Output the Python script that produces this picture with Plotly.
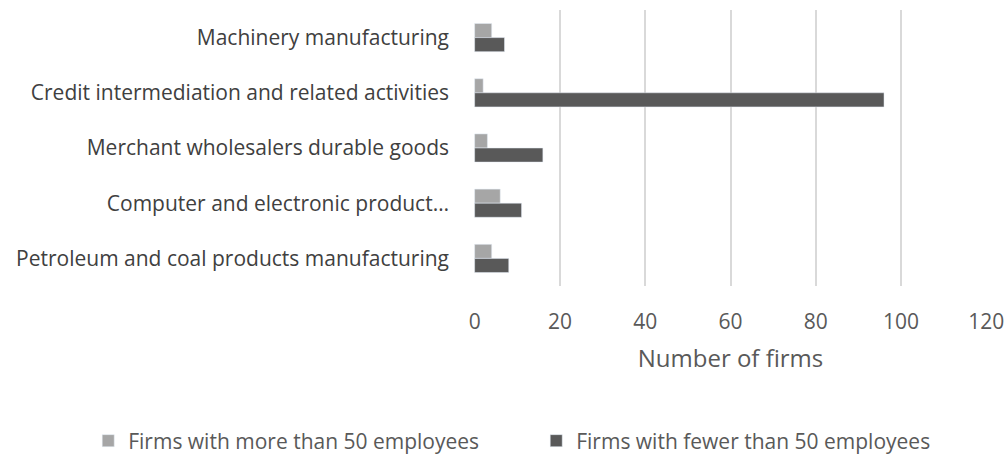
import plotly.graph_objects as go

categories = [
    "Machinery manufacturing",
    "Credit intermediation and related activities",
    "Merchant wholesalers durable goods",
    "Computer and electronic product…",
    "Petroleum and coal products manufacturing",
]
more_than_50 = [4, 2, 3, 6, 4]
fewer_than_50 = [7, 96, 16, 11, 8]
x_ticks = [0, 20, 40, 60, 80, 100, 120]

font_family = "Open Sans"

fig = go.Figure()
fig.add_trace(go.Bar(
    y=categories, x=more_than_50, orientation="h",
    name="Firms with more than 50 employees",
    marker=dict(color="#a6a6a6"),
))
fig.add_trace(go.Bar(
    y=categories, x=fewer_than_50, orientation="h",
    name="Firms with fewer than 50 employees",
    marker=dict(color="#595959"),
))

fig.update_layout(
    width=1008, height=456,
    margin=dict(l=474, r=21, t=10, b=170, autoexpand=False),
    paper_bgcolor="white", plot_bgcolor="white",
    barmode="group", bargap=0.49, bargroupgap=0,
    font=dict(family=font_family, color="#404040", size=21),
    xaxis=dict(
        range=[-0.15, 120.15], tickvals=x_ticks, showgrid=True,
        gridcolor="#d9d9d9", gridwidth=2, zeroline=False,
        showline=False, ticks="", ticklabelstandoff=21, automargin=False,
        tickfont=dict(size=21, color="#595959"),
        title=dict(text="Number of firms", font=dict(size=24, color="#595959"), standoff=16),
    ),
    yaxis=dict(
        autorange="reversed", showgrid=False, showline=False, ticks="",
        ticklabelstandoff=24, automargin=False, tickfont=dict(size=21, color="#404040"),
    ),
    legend=dict(
        orientation="h",
        x=-0.752, xanchor="left", y=-0.5616, yanchor="middle",
        entrywidth=403, itemwidth=30,
        font=dict(size=21, color="#595959"),
    ),
)

fig.write_html("out.html")
